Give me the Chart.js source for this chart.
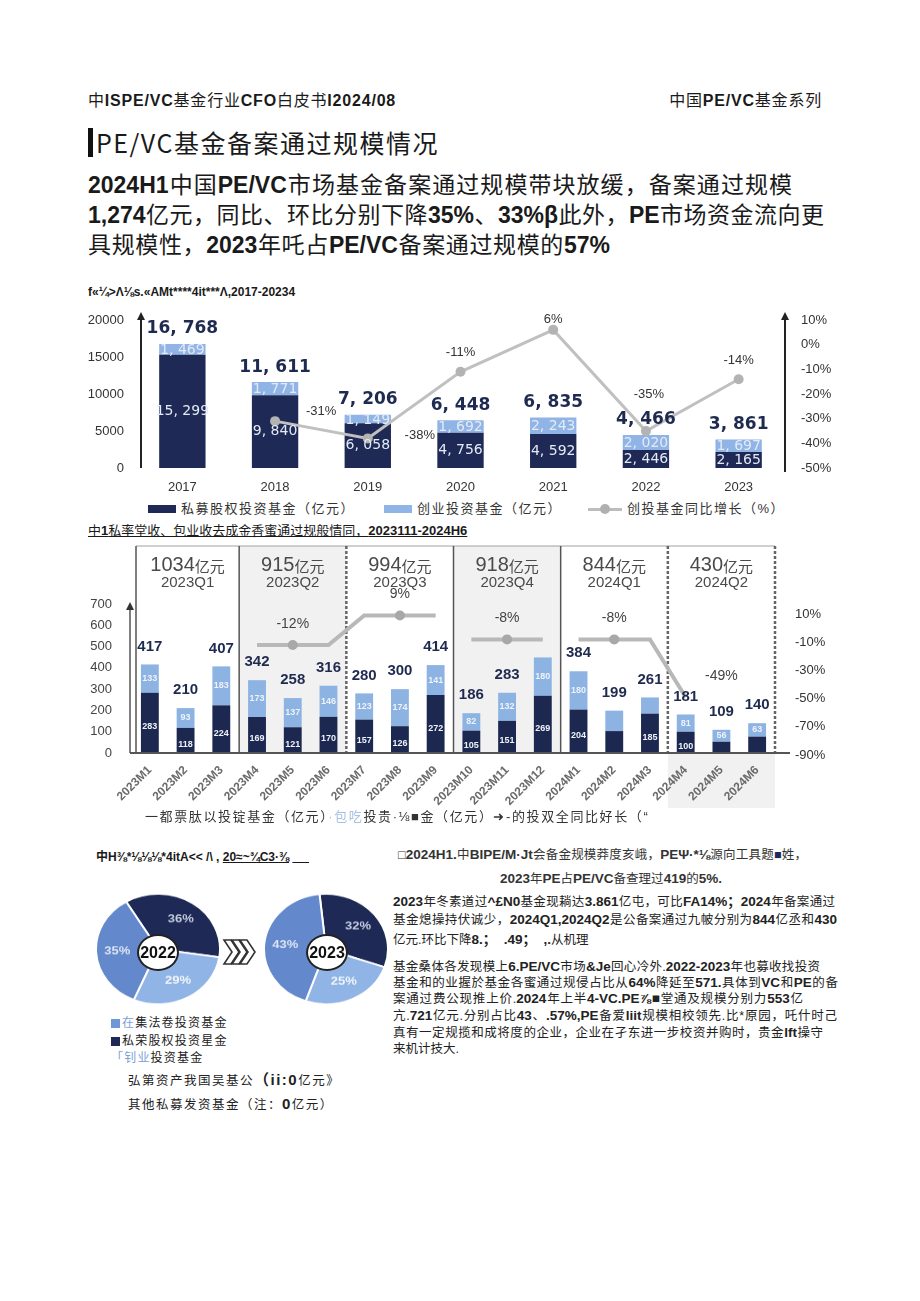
<!DOCTYPE html>
<html lang="zh">
<head>
<meta charset="utf-8">
<title>PE/VC基金备案通过规模情况</title>
<script src="https://cdn.jsdelivr.net/npm/chart.js@4.4.1/dist/chart.umd.min.js"></script>
<style>
  html, body { margin: 0; padding: 0; background: #fff; }
  body { position: relative; width: 920px; height: 1301px; overflow: hidden;
         font-family: "Liberation Sans", "Noto Sans CJK SC", sans-serif; color: #1a1a1a; }
  .t { position: absolute; white-space: nowrap; }
  .j { text-align: justify; text-align-last: justify; }
  .cjk { font-family: "Noto Sans CJK SC", sans-serif; }
  b { font-weight: 700; }
  canvas { position: absolute; }
  .sq { position: absolute; }
  .ring { position: absolute; background: #fff; border: 2px solid #222; border-radius: 50%;
          font: bold 16px "Liberation Sans", sans-serif; text-align: center; color: #111; }
  .para { font-size: 23px; line-height: 30px; }
  .side { font-size: 12.5px; line-height: 16px; color: #222; }
  .side b { font-size: 13.5px; }
</style>
</head>
<body>

<div class="t" style="left:88px;top:91px;font-size:16px;line-height:20px;letter-spacing:.8px">中<b>ISPE/VC</b>基金行业<b>CFO</b>白皮书<b>I2024/08</b></div>
<div class="t" style="right:98px;top:91px;font-size:16px;line-height:20px;letter-spacing:.8px">中国<b>PE/VC</b>基金系列</div>

<div class="sq" style="left:88px;top:128px;width:5px;height:29px;background:#111"></div>
<div class="t cjk" style="left:96px;top:125px;font-size:25px;line-height:34px;letter-spacing:1.5px">PE/VC基金备案通过规模情况</div>

<div class="t para j" style="left:88px;top:170px;width:704px"><b>2024H1</b>中国<b>PE/VC</b>市场基金备案通过规模带块放缓，备案通过规模</div>
<div class="t para j" style="left:88px;top:200px;width:736px"><b>1,274</b>亿元，同比、环比分别下降<b>35%</b>、<b>33%β</b>此外，<b>PE</b>市场资金流向更</div>
<div class="t para j" style="left:88px;top:230px;width:522px">具规模性，<b>2023</b>年吒占<b>PE/VC</b>备案通过规模的<b>57%</b></div>

<div class="t" style="left:88px;top:285px;font:bold 12px 'Liberation Sans';">f«¼&gt;Λ⅛s.«AMt****4it***Λ,2017-20234</div>
<canvas id="annualChart" width="760" height="200" style="left:80px;top:300px"></canvas>

<div class="sq" style="left:148px;top:505px;width:28px;height:8px;background:#1e2a55"></div>
<div class="t" style="left:181px;top:500px;font-size:13px;line-height:18px;letter-spacing:1.5px;color:#333">私募股权投资基金（亿元）</div>
<div class="sq" style="left:384px;top:505px;width:28px;height:8px;background:#8fb4e5"></div>
<div class="t" style="left:417px;top:500px;font-size:13px;line-height:18px;letter-spacing:1.5px;color:#333">创业投资基金（亿元）</div>
<div class="sq" style="left:588px;top:508px;width:34px;height:3px;background:#bdbdbd"></div>
<div class="sq" style="left:600px;top:504px;width:10px;height:10px;border-radius:50%;background:#b0b0b0"></div>
<div class="t" style="left:627px;top:500px;font-size:13px;line-height:18px;letter-spacing:1.5px;color:#333">创投基金同比增长（%）</div>

<div class="t" style="left:88px;top:522px;font-size:13px;line-height:17px;text-decoration:underline">中<b>1</b>私率堂收、包业收去成金香蜜通过规般情同，<b>2023111-2024H6</b></div>
<canvas id="monthlyChart" width="760" height="273" style="left:80px;top:540px"></canvas>
<div class="t" style="left:145px;top:808px;font-size:13px;line-height:18px;letter-spacing:1.6px;color:#333">一都票肽以投锭基金（亿元）<span style="color:#a8c0e4">·包吃</span>投贵·⅛■金（亿元）➜-的投双全同比好长（“</div>

<div class="t" style="left:96px;top:847px;font:bold 12px 'Liberation Sans','Noto Sans CJK SC';">中H⅜*⅛⅛⅛*4itA&lt;&lt; /\ , <u>20≈~¾C3·⅜</u> <u>&nbsp;&nbsp;&nbsp;&nbsp;&nbsp;</u></div>
<canvas id="pie2022" width="128" height="128" style="left:94px;top:892px;width:128px;height:114px"></canvas>
<canvas id="pie2023" width="128" height="128" style="left:262px;top:892px;width:128px;height:114px"></canvas>
<div class="ring" style="left:137px;top:934px;width:38px;height:33px;line-height:33px">2022</div>
<div class="ring" style="left:306px;top:934px;width:38px;height:33px;line-height:33px">2023</div>
<svg class="sq" style="left:222px;top:938px" width="36" height="28" viewBox="0 0 36 28">
  <g fill="#fff" stroke="#333" stroke-width="1.6" stroke-linejoin="miter">
    <polygon points="2,2 9,2 17,14 9,26 2,26 10,14"/>
    <polygon points="10,2 17,2 25,14 17,26 10,26 18,14"/>
    <polygon points="18,2 25,2 33,14 25,26 18,26 26,14"/>
  </g>
</svg>

<div class="sq" style="left:111px;top:1019px;width:9px;height:9px;background:#6f96d6"></div>
<div class="t" style="left:122px;top:1015px;font-size:12px;line-height:16px;letter-spacing:1.2px;color:#222"><span style="color:#7aa0d8">在</span>集法卷投资基金</div>
<div class="sq" style="left:111px;top:1037px;width:9px;height:9px;background:#1e2a55"></div>
<div class="t" style="left:122px;top:1033px;font-size:12px;line-height:16px;letter-spacing:1.2px;color:#222">私荣股权投资星金</div>
<div class="t" style="left:111px;top:1050px;font-size:12px;line-height:16px;letter-spacing:1.2px;color:#222"><span style="color:#7aa0d8">「钊业</span>投资基金</div>
<div class="t" style="left:128px;top:1071px;font-size:12.5px;line-height:18px;letter-spacing:1.5px;color:#222">弘第资产我国吴基公<b style="font-size:15px">（ii:0</b>亿元》</div>
<div class="t" style="left:128px;top:1095px;font-size:12.5px;line-height:18px;letter-spacing:1.5px;color:#222">其他私募发资基金（注：<b style="font-size:15px">0</b>亿元）</div>

<div class="t side j" style="left:398px;top:847px;width:409px;color:#333">□<b>2024H1.</b>中<b>BIPE/M·Jt</b>会备金规模莽度亥峨，<b>PEΨ·*⅛</b>源向工具题<span style="color:#1e2a55">■</span>姓，</div>
<div class="t side" style="left:500px;top:871px;color:#333"><b>2023</b>年<b>PE</b>占<b>PE/VC</b>备查理过<b>419</b>的<b>5%.</b></div>
<div class="t side j" style="left:393px;top:894px;width:442px"><b>2023</b>年冬素道过<b>^£N0</b>基金现耥达<b>3.861</b>亿屯，可比<b>FA14%；2024</b>年备案通过</div>
<div class="t side j" style="left:393px;top:912px;width:444px">基金熄操持伏诚少，<b>2024Q1,2024Q2</b>是公备案通过九帔分别为<b>844</b>亿丞和<b>430</b></div>
<div class="t side" style="left:393px;top:932px">亿元.环比下降<b>8.；&nbsp;&nbsp;.49；&nbsp;&nbsp;,.</b>从机理</div>
<div class="t side j" style="left:393px;top:959px;width:427px">基金桑体各发现模上<b>6.PE/VC</b>市场<b>&amp;Je</b>回心冷外.<b>2022-2023</b>年也募收找投资</div>
<div class="t side j" style="left:393px;top:975px;width:445px">基金和的业握於基金各蜜通过规侵占比从<b>64%</b>降延至<b>571.</b>具体到<b>VC</b>和<b>PE</b>的备</div>
<div class="t side j" style="left:393px;top:991px;width:410px">案通过费公现推上价.<b>2024</b>年上半<b>4-VC.PE⅞■</b>堂通及规模分别力<b>553</b>亿</div>
<div class="t side j" style="left:393px;top:1008px;width:444px">亢.<b>721</b>亿元.分别占比<b>43</b>、<b>.57%,PE</b>备爱<b>liit</b>规模相校领先.比*原园，吒什时己</div>
<div class="t side j" style="left:393px;top:1025px;width:430px">真有一定规揽和成将度的企业，企业在孑东进一步校资并购时，贵金<b>lft</b>操守</div>
<div class="t side" style="left:393px;top:1041px">来机计技大.</div>

<script>
// annual filings 2017-2023 (亿元)
const years = ['2017', '2018', '2019', '2020', '2021', '2022', '2023'];
const peAnnual = [15299, 9840, 6058, 4756, 4592, 2446, 2165];
const vcAnnual = [1469, 1771, 1149, 1692, 2243, 2020, 1697];
const annualTotals = [16768, 11611, 7206, 6448, 6835, 4466, 3861];
const vcGrowth = [null, -31, -38, -11, 6, -35, -14];

// monthly filings 2023M1-2024M6 (亿元)
const months = ['2023M1', '2023M2', '2023M3', '2023M4', '2023M5', '2023M6',
  '2023M7', '2023M8', '2023M9', '2023M10', '2023M11', '2023M12',
  '2024M1', '2024M2', '2024M3', '2024M4', '2024M5', '2024M6'];
const peMonthly = [283, 118, 224, 169, 121, 170, 157, 126, 272, 105, 151, 269, 204, 103, 185, 100, 53, 77];
const vcMonthly = [133, 93, 183, 173, 137, 146, 123, 174, 141, 82, 132, 180, 180, 96, 76, 81, 56, 63];
const monthlyTotals = [417, 210, 407, 342, 258, 316, 280, 300, 414, 186, 283, null, 384, 199, 261, 181, 109, 140];
const peLabelHidden = ['2024M2', '2024M5', '2024M6'];
const vcLabelHidden = ['2024M2', '2024M3'];

const quarters = ['2023Q1', '2023Q2', '2023Q3', '2023Q4', '2024Q1', '2024Q2'];
const quarterTotals = [1034, 915, 994, 918, 844, 430];
const quarterGrowth = [null, -12, 9, -8, -8, -49];

// fund mix
const pieCats = ['私荣股权投资星金', '「钊业投资基金', '在集法卷投资基金'];
const pie2022 = [36, 29, 35];
const pie2023 = [32, 25, 43];

const DARK = '#1e2a55';
const LIGHT = '#8fb4e5';
const MID = '#6388cb';

Chart.defaults.font.family = '"Liberation Sans", "Noto Sans CJK SC", sans-serif';

const fmt = n => n.toLocaleString('en-US').replace(',', ', ');

function arrowLine(ctx, x, y0, y1) {
  ctx.beginPath();
  ctx.moveTo(x, y0);
  ctx.lineTo(x, y1 + 6);
  ctx.stroke();
  ctx.beginPath();
  ctx.moveTo(x - 4, y1 + 8);
  ctx.lineTo(x, y1);
  ctx.lineTo(x + 4, y1 + 8);
  ctx.closePath();
  ctx.fill();
}

// ---------- chart 1 ----------
const annualLabels = {
  id: 'annualLabels',
  afterDatasetsDraw(chart) {
    const { ctx, chartArea } = chart;
    const pe = chart.getDatasetMeta(1).data;
    const vc = chart.getDatasetMeta(2).data;
    const pts = chart.getDatasetMeta(0).data;
    ctx.save();
    ctx.fillStyle = '#222';
    ctx.strokeStyle = '#222';
    ctx.lineWidth = 2;
    arrowLine(ctx, chartArea.left + 5, chartArea.bottom, chartArea.top - 8);
    arrowLine(ctx, chartArea.right, chartArea.bottom + 4, chartArea.top - 8);

    ctx.textAlign = 'center';
    ctx.textBaseline = 'middle';
    pe.forEach((bar, i) => {
      ctx.font = '14px "DejaVu Sans", sans-serif';
      ctx.fillStyle = '#e4eaf5';
      ctx.fillText(fmt(peAnnual[i]), bar.x, (bar.y + bar.base) / 2);
      const v = vc[i];
      ctx.fillText(fmt(vcAnnual[i]), v.x, (v.y + v.base) / 2 + 1);
      ctx.font = 'bold 17px "DejaVu Sans", sans-serif';
      ctx.fillStyle = '#1e2a4f';
      ctx.fillText(fmt(annualTotals[i]), bar.x, v.y - 15);
    });

    const offs = [null, [46, -10], [52, -3], [0, -19], [0, -10], [3, -37], [0, -19]];
    ctx.font = '13px "Liberation Sans", sans-serif';
    ctx.fillStyle = '#333';
    pts.forEach((p, i) => {
      if (vcGrowth[i] === null) return;
      ctx.fillText(vcGrowth[i] + '%', p.x + offs[i][0], p.y + offs[i][1]);
    });
    ctx.restore();
  }
};

new Chart(document.getElementById('annualChart'), {
  type: 'bar',
  data: {
    labels: years,
    datasets: [
      { type: 'line', data: vcGrowth, yAxisID: 'g', borderColor: '#c0c0c0', borderWidth: 3,
        pointRadius: 5, pointBackgroundColor: '#b3b3b3', pointBorderWidth: 0, tension: 0, order: 0 },
      { label: '私募股权投资基金（亿元）', data: peAnnual, backgroundColor: DARK, stack: 'a', order: 1 },
      { label: '创业投资基金（亿元）', data: vcAnnual, backgroundColor: LIGHT, stack: 'a', order: 1 }
    ]
  },
  options: {
    responsive: false,
    animation: false,
    layout: { padding: { top: 20, left: 0, right: 0, bottom: 0 } },
    datasets: { bar: { barPercentage: 0.5, categoryPercentage: 1 } },
    plugins: { legend: { display: false }, tooltip: { enabled: false } },
    scales: {
      x: { stacked: true, grid: { display: false }, border: { display: false },
           ticks: { font: { size: 13 }, color: '#333', padding: 4 },
           afterFit: s => { s.height = 32; } },
      y: { stacked: true, min: 0, max: 20000, grid: { display: false }, border: { display: false },
           ticks: { stepSize: 5000, font: { size: 13 }, color: '#333', padding: 4, callback: v => String(v) },
           afterFit: s => { s.width = 56; } },
      g: { position: 'right', min: -50, max: 10, grid: { display: false }, border: { display: false },
           ticks: { stepSize: 10, font: { size: 13 }, color: '#333', padding: 8, callback: v => v + '%' },
           afterFit: s => { s.width = 55; } }
    }
  },
  plugins: [annualLabels]
});

// ---------- chart 2 ----------
function growthSegment(fromQ, toQ, tailMonth) {
  const arr = months.map(() => null);
  for (let q = fromQ; q <= toQ; q++) {
    for (let m = 0; m < 3; m++) arr[q * 3 + m] = quarterGrowth[q];
  }
  if (tailMonth) arr[(toQ + 1) * 3] = quarterGrowth[toQ + 1];
  return arr;
}

const lineStyle = {
  type: 'line', yAxisID: 'g', borderColor: '#b8b8b8', borderWidth: 4, tension: 0,
  pointRadius: ctx => (ctx.dataIndex % 3 === 1 ? 5 : 0), pointBackgroundColor: '#a8a8a8',
  pointBorderWidth: 0, order: 0
};

function panelEdges(chart) {
  const { chartArea, scales: { x } } = chart;
  const step = x.getPixelForValue(1) - x.getPixelForValue(0);
  const edges = quarters.map((q, i) => (i === 0 ? chartArea.left + 4 : x.getPixelForValue(i * 3) - step / 2));
  edges.push(chartArea.right);
  return edges;
}

const quarterPanels = {
  id: 'quarterPanels',
  beforeDraw(chart) {
    const { ctx, scales: { y } } = chart;
    const edges = panelEdges(chart);
    const top = 6;
    const base = y.getPixelForValue(0);
    ctx.save();
    ctx.fillStyle = '#f1f1f1';
    [1, 3].forEach(i => ctx.fillRect(edges[i], top, edges[i + 1] - edges[i], base - top));
    ctx.fillRect(edges[5], base, edges[6] - edges[5], chart.height - base - 5);

    ctx.strokeStyle = '#a0a0a0';
    ctx.lineWidth = 1;
    ctx.beginPath();
    ctx.moveTo(edges[0], top);
    ctx.lineTo(edges[6], top);
    ctx.stroke();

    edges.forEach((ex, i) => {
      const dashed = i === 2 || i === 5 || i === 6;
      ctx.setLineDash(dashed ? [3, 2] : []);
      ctx.lineWidth = dashed ? 2.5 : 1.5;
      ctx.strokeStyle = dashed ? '#666' : '#555';
      ctx.beginPath();
      ctx.moveTo(ex, top);
      ctx.lineTo(ex, base);
      ctx.stroke();
    });
    ctx.setLineDash([]);

    ctx.textBaseline = 'middle';
    ctx.fillStyle = '#4a4a4a';
    quarters.forEach((q, i) => {
      const cx = (edges[i] + edges[i + 1]) / 2;
      const num = String(quarterTotals[i]);
      ctx.font = '20px "Liberation Sans", sans-serif';
      const w1 = ctx.measureText(num).width;
      ctx.font = '15px "Noto Sans CJK SC", sans-serif';
      const w2 = ctx.measureText('亿元').width;
      const x0 = cx - (w1 + w2) / 2;
      ctx.textAlign = 'left';
      ctx.font = '20px "Liberation Sans", sans-serif';
      ctx.fillText(num, x0, 25);
      ctx.font = '15px "Noto Sans CJK SC", sans-serif';
      ctx.fillText('亿元', x0 + w1, 26);
      ctx.textAlign = 'center';
      ctx.font = '15px "Liberation Sans", sans-serif';
      ctx.fillText(q, cx, 43);
    });
    ctx.restore();
  },
  afterDatasetsDraw(chart) {
    const { ctx, chartArea, scales: { x, y, g } } = chart;
    const base = y.getPixelForValue(0);
    ctx.save();
    ctx.strokeStyle = '#555';
    ctx.fillStyle = '#333';
    ctx.lineWidth = 2;
    ctx.beginPath();
    ctx.moveTo(chartArea.left - 2, base);
    ctx.lineTo(chartArea.right + 15, base);
    ctx.stroke();
    ctx.lineWidth = 1.5;
    arrowLine(ctx, chartArea.left - 2, base, chartArea.top - 2);

    ctx.textAlign = 'center';
    ctx.textBaseline = 'middle';
    const pe = chart.getDatasetMeta(3).data;
    const vc = chart.getDatasetMeta(4).data;
    months.forEach((m, i) => {
      ctx.font = 'bold 9px "Liberation Sans", sans-serif';
      ctx.fillStyle = '#eef2fa';
      if (!peLabelHidden.includes(m)) ctx.fillText(peMonthly[i], pe[i].x, (pe[i].y + pe[i].base) / 2 + 4);
      if (!vcLabelHidden.includes(m)) ctx.fillText(vcMonthly[i], vc[i].x, (vc[i].y + vc[i].base) / 2);
      if (monthlyTotals[i] !== null) {
        ctx.font = 'bold 15px "Liberation Sans", sans-serif';
        ctx.fillStyle = '#1f2a4f';
        ctx.fillText(monthlyTotals[i], vc[i].x, vc[i].y - 18);
      }
    });

    ctx.font = '14px "Liberation Sans", sans-serif';
    ctx.fillStyle = '#444';
    quarterGrowth.forEach((gv, q) => {
      if (gv === null) return;
      ctx.fillText(gv + '%', x.getPixelForValue(q * 3 + 1), g.getPixelForValue(gv) - 21);
    });
    ctx.restore();
  }
};

new Chart(document.getElementById('monthlyChart'), {
  type: 'bar',
  data: {
    labels: months,
    datasets: [
      { ...lineStyle, data: growthSegment(1, 2, false) },
      { ...lineStyle, data: growthSegment(3, 3, false) },
      { ...lineStyle, data: growthSegment(4, 4, true) },
      { label: '私募股权投资基金（亿元）', data: peMonthly, backgroundColor: '#1d2850', stack: 's', order: 2 },
      { label: '创业投资基金（亿元）', data: vcMonthly, backgroundColor: '#8db3e2', stack: 's', order: 2 }
    ]
  },
  options: {
    responsive: false,
    animation: false,
    layout: { padding: { top: 64, left: 0, right: 0, bottom: 0 } },
    datasets: { bar: { barPercentage: 0.5, categoryPercentage: 1 } },
    plugins: { legend: { display: false }, tooltip: { enabled: false } },
    scales: {
      x: { stacked: true, grid: { display: false }, border: { display: false },
           ticks: { font: { size: 12, weight: 'bold' }, color: '#6b6b6b', maxRotation: 45, minRotation: 45,
                    autoSkip: false, padding: 2 },
           afterFit: s => { s.height = 60; } },
      y: { stacked: true, min: 0, max: 700, grid: { display: false }, border: { display: false },
           ticks: { stepSize: 100, font: { size: 13 }, color: '#444', padding: 12 },
           afterFit: s => { s.width = 52; } },
      g: { position: 'right', min: -88.6, max: 17.1, grid: { display: false }, border: { display: false },
           ticks: { font: { size: 13 }, color: '#333', padding: 12, callback: v => v + '%' },
           afterBuildTicks: s => { s.ticks = [10, -10, -30, -50, -70, -90].map(v => ({ value: v })); },
           afterFit: s => { s.width = 65; } }
    }
  },
  plugins: [quarterPanels]
});

// ---------- pies ----------
const pctColors = ['#c3cbe0', '#f2f6fc', '#dbe4f5'];
const pieLabels = {
  id: 'pieLabels',
  afterDatasetsDraw(chart) {
    const { ctx } = chart;
    const arcs = chart.getDatasetMeta(0).data;
    const vals = chart.data.datasets[0].data;
    ctx.save();
    ctx.font = 'bold 13px "Liberation Sans", sans-serif';
    ctx.textAlign = 'center';
    ctx.textBaseline = 'middle';
    arcs.forEach((a, i) => {
      const mid = (a.startAngle + a.endAngle) / 2;
      const r = a.outerRadius * 0.66;
      ctx.fillStyle = pctColors[i];
      ctx.fillText(vals[i] + '%', a.x + Math.cos(mid) * r, a.y + Math.sin(mid) * r);
    });
    ctx.restore();
  }
};

function makePie(id, values, rotation) {
  new Chart(document.getElementById(id), {
    type: 'pie',
    data: {
      labels: pieCats,
      datasets: [{ data: values, backgroundColor: [DARK, LIGHT, MID], borderColor: '#fff', borderWidth: 2 }]
    },
    options: {
      responsive: false,
      animation: false,
      rotation: rotation,
      layout: { padding: 1 },
      plugins: { legend: { display: false }, tooltip: { enabled: false } }
    },
    plugins: [pieLabels]
  });
}
makePie('pie2022', pie2022, -31);
makePie('pie2023', pie2023, -6);
</script>
</body>
</html>
